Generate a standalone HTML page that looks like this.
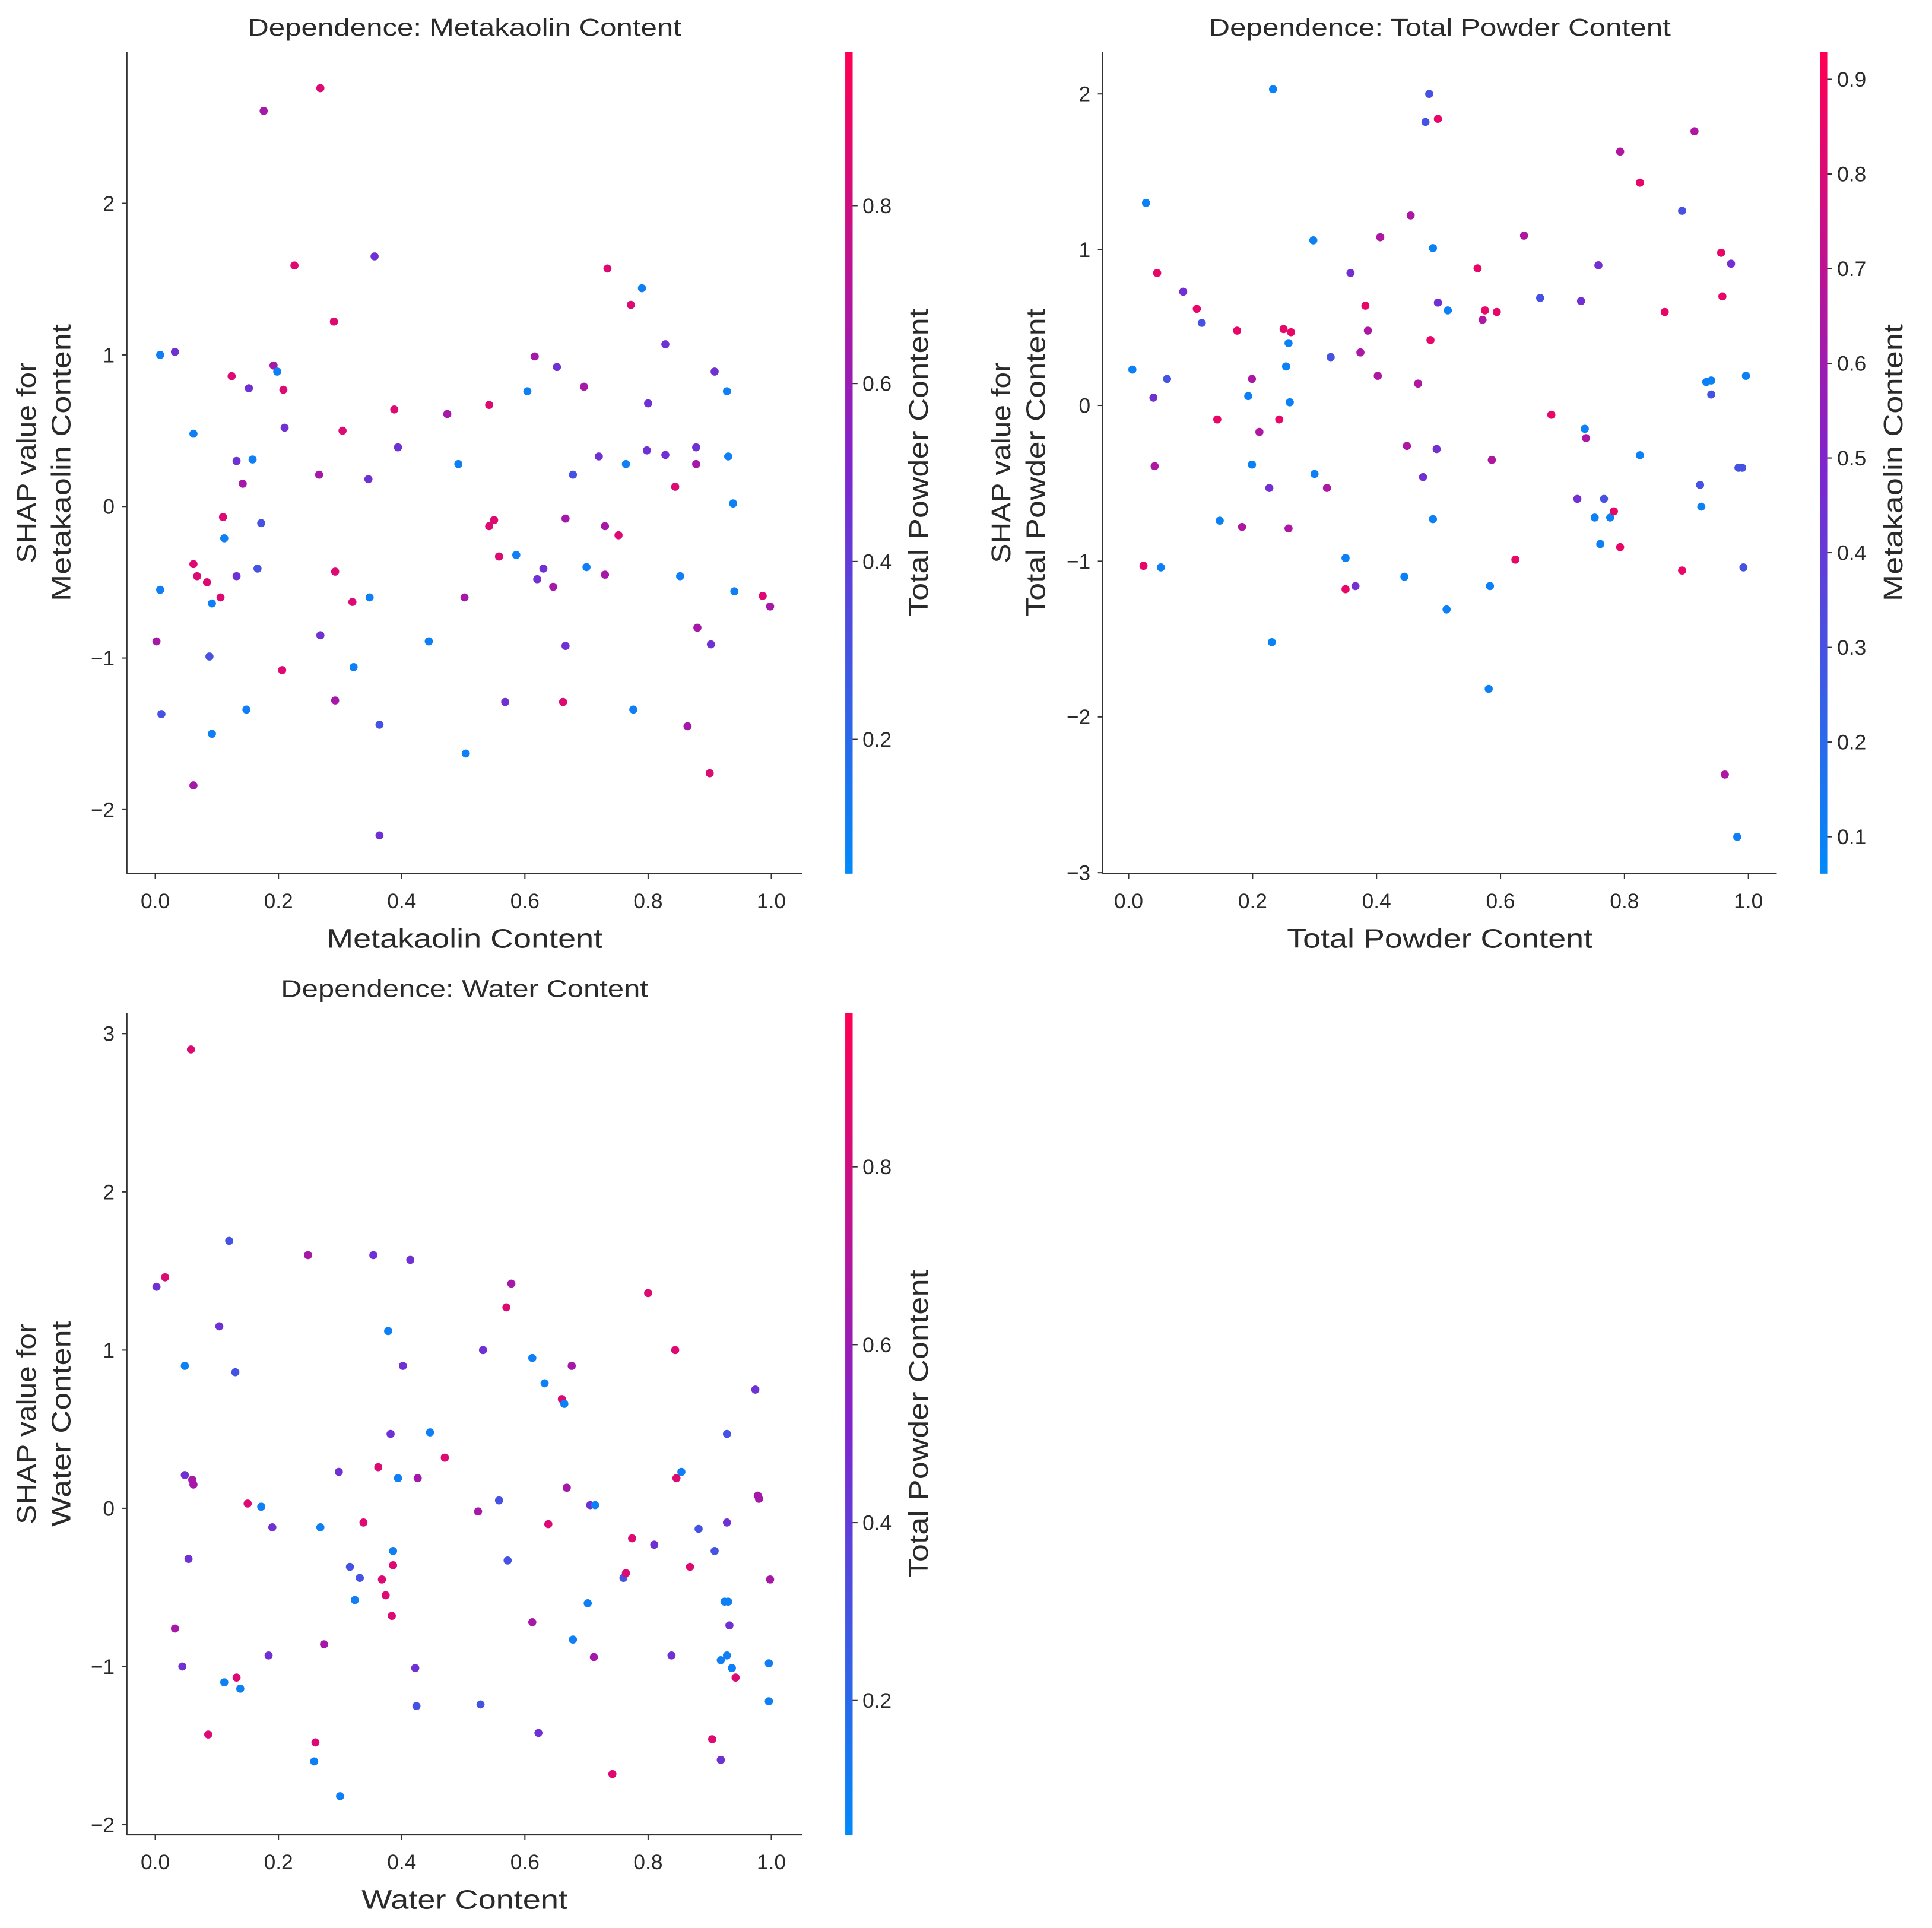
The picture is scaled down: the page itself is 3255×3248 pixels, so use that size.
<!DOCTYPE html>
<html><head><meta charset="utf-8"><style>
html,body{margin:0;padding:0;background:#fff}
svg{display:block}
text{font-family:"Liberation Sans",sans-serif;fill:#2a2a2a}
</style></head><body>
<svg id="chart" width="3255" height="3248" viewBox="0 0 1568 1564.6" xmlns="http://www.w3.org/2000/svg">
<defs>
<linearGradient id="cbgrad" x1="0" y1="1" x2="0" y2="0">
<stop offset="0" stop-color="rgb(0,138,250)"/>
<stop offset="0.5" stop-color="rgb(128,36,205)"/>
<stop offset="1" stop-color="rgb(255,0,82)"/>
</linearGradient>
</defs>
</svg>
<script>
// Panel 1: Metakaolin Content (color = Total Powder Content)
const p1x=[.008,.032,.008,.002,.01,.062,.062,.068,.084,.092,.106,.088,.092,.062,.11,.112,.124,.132,.132,.142,.152,.158,.166,.172,.148,.176,.192,.198,.208,.21,.206,.226,.268,.266,.268,.29,.292,.304,.292,.32,.322,.348,.346,.356,.364,.364,.388,.394,.444,.474,.492,.502,.504,.542,.542,.55,.558,.568,.586,.604,.616,.62,.63,.646,.652,.662,.666,.666,.678,.696,.7,.72,.73,.73,.734,.752,.764,.772,.776,.79,.798,.8,.828,.828,.844,.852,.864,.878,.878,.88,.902,.908,.9,.928,.93,.938,.94,.986,.998];
const p1y=[1.0,1.02,-.55,-.89,-1.37,.48,-.38,-.46,-.5,-.64,-.6,-.99,-1.5,-1.84,-.07,-.21,.86,.3,-.46,.15,.78,.31,-.41,-.11,-1.34,2.61,.93,.89,.77,.52,-1.08,1.59,2.76,.21,-.85,1.22,-.43,.5,-1.28,-.63,-1.06,-.6,.18,1.65,-1.44,-2.17,.64,.39,-.89,.61,.28,-.6,-1.63,.67,-.13,-.09,-.33,-1.29,-.32,.76,.99,-.48,-.41,-.53,.92,-1.29,-.08,-.92,.21,.79,-.4,.33,-.13,-.45,1.57,-.19,.28,1.33,-1.34,1.44,.37,.68,1.07,.34,.13,-.46,-1.45,.39,.28,-.8,-.91,.89,-1.76,.76,.33,.02,-.56,-.59,-.66];
const p1c=[.1,.45,.1,.65,.3,.1,.85,.85,.85,.1,.85,.3,.1,.65,.85,.1,.85,.45,.45,.65,.45,.1,.3,.3,.1,.65,.65,.1,.85,.45,.85,.85,.85,.65,.45,.85,.85,.85,.65,.85,.1,.1,.45,.45,.3,.45,.85,.45,.1,.65,.1,.65,.1,.85,.85,.85,.85,.45,.1,.1,.65,.45,.45,.65,.45,.85,.65,.45,.3,.65,.1,.45,.65,.65,.85,.85,.1,.85,.1,.1,.45,.45,.45,.45,.85,.1,.65,.45,.65,.65,.45,.45,.85,.1,.1,.1,.1,.85,.65];
// Panel 2: Total Powder Content (color = Metakaolin Content)
const p2x=[.006,.028,.024,.046,.04,.042,.052,.062,.088,.11,.118,.143,.147,.175,.183,.193,.199,.199,.211,.227,.233,.231,.243,.25,.254,.258,.262,.26,.258,.298,.3,.32,.326,.35,.35,.358,.366,.374,.382,.386,.402,.406,.445,.449,.455,.467,.475,.479,.485,.487,.491,.491,.497,.499,.499,.513,.515,.563,.571,.575,.583,.581,.586,.594,.624,.638,.664,.682,.724,.73,.736,.738,.752,.758,.761,.767,.777,.783,.793,.793,.825,.825,.865,.893,.893,.913,.922,.924,.932,.94,.94,.956,.958,.962,.972,.982,.984,.99,.992,.996];
const p2y=[.23,1.3,-1.03,.85,.05,-.39,-1.04,.17,.73,.62,.53,-.09,-.74,.48,-.78,.06,.17,-.38,-.17,-.53,2.03,-1.52,-.09,.49,.25,.4,.47,.02,-.79,1.06,-.44,-.53,.31,-.98,-1.18,.85,-1.16,.34,.64,.48,.19,1.08,-1.1,-.26,1.22,.14,-.46,1.82,2.0,.42,1.01,-.73,-.28,1.84,.66,-1.31,.61,.88,.55,.61,-1.16,-1.82,-.35,.6,-.99,1.09,.69,-.06,-.6,.67,-.15,-.21,-.72,.9,-.89,-.6,-.72,-.68,-.91,1.63,1.43,-.32,.6,-1.06,1.25,1.76,-.51,-.65,.15,.16,.07,.98,.7,-2.37,.91,-2.77,-.4,-.4,-1.04,.19];
const p2c=[.1,.1,.85,.85,.45,.65,.1,.3,.45,.85,.3,.85,.1,.85,.65,.1,.65,.1,.65,.45,.1,.1,.85,.85,.1,.1,.85,.1,.65,.1,.1,.65,.3,.1,.85,.45,.45,.65,.85,.65,.65,.65,.1,.65,.65,.65,.45,.3,.3,.85,.1,.1,.45,.85,.45,.1,.1,.85,.65,.85,.1,.1,.65,.85,.85,.65,.3,.85,.45,.45,.1,.65,.1,.45,.1,.3,.1,.85,.85,.65,.85,.1,.85,.85,.3,.65,.3,.1,.1,.1,.3,.85,.85,.65,.45,.1,.3,.3,.3,.1];
// Panel 3: Water Content (color = Total Powder Content)
const p3x=[.002,.016,.058,.048,.032,.044,.048,.06,.062,.054,.086,.104,.112,.12,.13,.132,.138,.15,.172,.184,.19,.248,.26,.258,.268,.274,.298,.3,.316,.324,.332,.338,.354,.362,.368,.374,.378,.382,.386,.386,.384,.394,.402,.414,.422,.424,.426,.446,.47,.524,.528,.532,.558,.57,.572,.578,.612,.612,.622,.632,.638,.66,.664,.668,.676,.678,.702,.706,.714,.712,.742,.76,.764,.774,.8,.81,.838,.844,.846,.854,.868,.882,.904,.908,.918,.918,.928,.928,.924,.93,.928,.932,.936,.942,.974,.978,.98,.996,.996,.998];
const p3y=[1.4,1.46,2.9,.9,-.76,-1.0,.21,.18,.15,-.32,-1.43,1.15,-1.1,1.69,.86,-1.07,-1.14,.03,.01,-.93,-.12,1.6,-1.48,-1.6,-.12,-.86,.23,-1.82,-.37,-.58,-.44,-.09,1.6,.26,-.45,-.55,1.12,.47,-.27,-.36,-.68,.19,.9,1.57,-1.01,-1.25,.19,.48,.32,-.02,-1.24,1.0,.05,1.27,-.33,1.42,.95,-.72,-1.42,.79,-.1,.69,.66,.13,.9,-.83,-.6,.02,.02,-.94,-1.68,-.44,-.41,-.19,1.36,-.23,-.93,1.0,.19,.23,-.37,-.13,-1.46,-.27,-1.59,-.96,-.93,.47,-.59,-.59,-.09,-.74,-1.01,-1.07,.75,.08,.06,-.98,-1.22,-.45];
const p3c=[.45,.85,.85,.1,.65,.45,.45,.65,.65,.45,.85,.45,.1,.3,.3,.85,.1,.85,.1,.45,.45,.65,.85,.1,.1,.65,.45,.1,.3,.1,.3,.85,.45,.85,.85,.85,.1,.45,.1,.85,.85,.1,.45,.45,.45,.3,.65,.1,.85,.65,.3,.45,.3,.85,.3,.65,.1,.65,.45,.1,.85,.85,.1,.65,.65,.1,.1,.45,.1,.65,.85,.3,.85,.85,.85,.45,.45,.85,.85,.1,.85,.3,.85,.3,.45,.1,.1,.3,.1,.1,.45,.45,.1,.85,.45,.65,.65,.1,.1,.65];
const xTicks=[0,0.2,0.4,0.6,0.8,1.0];
const xTickLabels=["0.0","0.2","0.4","0.6","0.8","1.0"];
const y1Ticks=[-2,-1,0,1,2], y2Ticks=[-3,-2,-1,0,1,2], y3Ticks=[-2,-1,0,1,2,3];
const cb1Ticks=[0.2,0.4,0.6,0.8], cb2Ticks=[0.1,0.2,0.3,0.4,0.5,0.6,0.7,0.8,0.9];

const NS="http://www.w3.org/2000/svg";
const svg=document.getElementById('chart');
function el(t,a,p){const e=document.createElementNS(NS,t);for(const k in a)e.setAttribute(k,a[k]);(p||svg).appendChild(e);return e;}
function lerp(a,b,t){return Math.round(a+(b-a)*t);}
function cmap(t){t=Math.max(0,Math.min(1,t));const A=[0,138,250],M=[128,36,205],B=[255,0,82];
 if(t<.5){const u=t/.5;return `rgb(${lerp(A[0],M[0],u)},${lerp(A[1],M[1],u)},${lerp(A[2],M[2],u)})`;}
 const u=(t-.5)/.5;return `rgb(${lerp(M[0],B[0],u)},${lerp(M[1],B[1],u)},${lerp(M[2],B[2],u)})`;}
function fmt(v){return (v<0?"\u2212":"")+Math.abs(v);}
function fit(t,len){t.setAttribute('textLength',len);t.setAttribute('lengthAdjust','spacingAndGlyphs');}

function panel(o){
 const g=el('g',{});
 
 
 const sx=v=>o.x0 + v*(o.x1-o.x0);
 const sy=v=>o.yz - v*o.ypu;
 const ls=el('line',{x1:o.L,y1:o.T,x2:o.L,y2:o.B,stroke:'#333','stroke-width':1},g);
 
 
 const bs=el('line',{x1:o.L,y1:o.B,x2:o.R,y2:o.B,stroke:'#333','stroke-width':1},g);
 
 
 xTicks.forEach((v,i)=>{const x=sx(v);
  el('line',{x1:x,y1:o.B,x2:x,y2:o.B+4,stroke:'#333'},g);
  const t=el('text',{x:x,y:o.B+28,'font-size':17,'text-anchor':'middle'},g);t.textContent=xTickLabels[i];
  
  });
 o.yt.forEach(v=>{const y=sy(v);
  el('line',{x1:o.L-4,y1:y,x2:o.L,y2:y,stroke:'#333'},g);
  const t=el('text',{x:o.L-10,y:y+6,'font-size':17,'text-anchor':'end'},g);t.textContent=fmt(v);
  
  });
 for(let i=0;i<o.px.length;i++){
  const c=el('circle',{cx:sx(o.px[i]),cy:sy(o.py[i]),r:3.3,fill:cmap((o.pc[i]-o.c0)/(o.c1-o.c0))},g);
  
  
 }
 const ti=el('text',{x:(o.L+o.R)/2,y:o.T-13,'font-size':19.5,'text-anchor':'middle'},g);ti.textContent=o.title;fit(ti,o.tw);
 
 
 const xl=el('text',{x:(o.L+o.R)/2,y:o.B+60,'font-size':22,'text-anchor':'middle'},g);xl.textContent=o.xlab;fit(xl,o.xw);
 
 
 const cy=(o.T+o.B)/2;
 const a1=o.ya, a2=o.ya+28;
 const y1=el('text',{x:a1,y:cy,'font-size':22,'text-anchor':'middle',transform:`rotate(-90 ${a1} ${cy})`},g);y1.textContent='SHAP value for';fit(y1,163);
 
 
 const y2=el('text',{x:a2,y:cy,'font-size':22,'text-anchor':'middle',transform:`rotate(-90 ${a2} ${cy})`},g);y2.textContent=o.ylab;fit(y2,o.yw);
 
 
 const cb=el('rect',{x:o.cbx,y:o.T,width:6,height:o.B-o.T,fill:'url(#cbgrad)'},g);
 
 
 const cys=v=>o.B-(v-o.c0)/(o.c1-o.c0)*(o.B-o.T);
 o.ct.forEach(v=>{const y=cys(v);
  el('line',{x1:o.cbx+6,y1:y,x2:o.cbx+10,y2:y,stroke:'#333'},g);
  const t=el('text',{x:o.cbx+14,y:y+6,'font-size':17},g);t.textContent=v.toFixed(1);
  
  });
 const cx=o.cbx+67;
 const cl=el('text',{x:cx,y:cy,'font-size':22,'text-anchor':'middle',transform:`rotate(-90 ${cx} ${cy})`},g);cl.textContent=o.clab;fit(cl,o.cw);
 
 
}
panel({name:'panel-metakaolin',L:103,R:651,T:42,B:709,x0:126,x1:626,yz:411,ypu:123,yt:y1Ticks,px:p1x,py:p1y,pc:p1c,c0:.049,c1:.973,ct:cb1Ticks,cbx:686,ya:29,
 title:'Dependence: Metakaolin Content',tw:352,xlab:'Metakaolin Content',xw:224,ylab:'Metakaolin Content',yw:225,clab:'Total Powder Content',cw:250});
panel({name:'panel-total-powder',L:895,R:1442,T:42,B:709,x0:916,x1:1419,yz:329,ypu:126.4,yt:y2Ticks,px:p2x,py:p2y,pc:p2c,c0:.061,c1:.929,ct:cb2Ticks,cbx:1477,ya:820,
 title:'Dependence: Total Powder Content',tw:375,xlab:'Total Powder Content',xw:248,ylab:'Total Powder Content',yw:250,clab:'Metakaolin Content',cw:225});
panel({name:'panel-water',L:103,R:651,T:822,B:1489,x0:126,x1:626,yz:1224,ypu:128.4,yt:y3Ticks,px:p3x,py:p3y,pc:p3c,c0:.049,c1:.973,ct:cb1Ticks,cbx:686,ya:29,
 title:'Dependence: Water Content',tw:298,xlab:'Water Content',xw:167,ylab:'Water Content',yw:167,clab:'Total Powder Content',cw:250});
</script>
</body></html>
